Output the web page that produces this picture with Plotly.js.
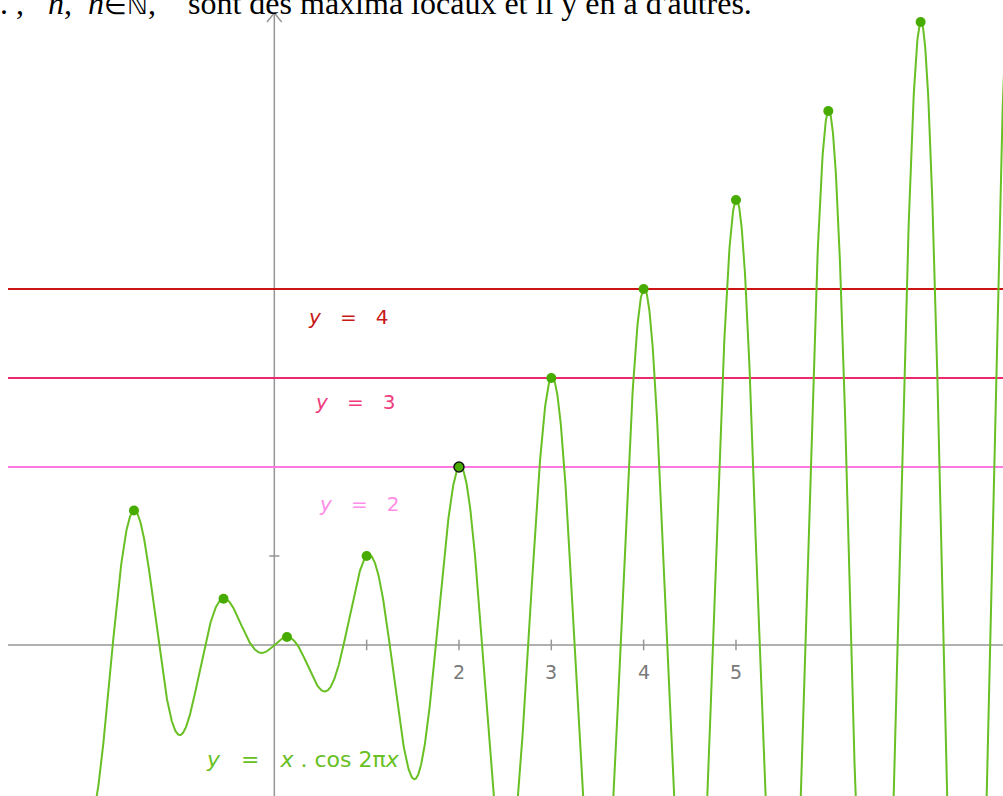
<!DOCTYPE html>
<html>
<head>
<meta charset="utf-8">
<script src="https://cdn.plot.ly/plotly-3.0.1.min.js"></script>
<style>html,body{margin:0;padding:0;background:#fff;overflow:hidden}#chart{width:1003px;height:796px}</style>
</head>
<body>
<div id="chart"></div>
<script>
// Curve shown in the picture: y = x . cos 2πx  (sampled over the visible domain)
const curveDomain = [-2.0, 7.95];
const curveStep = 0.004;

// Marked points
const markX = [-1.52, -0.55, 0.137, 1.0, 2, 3, 4, 5, 6, 7];
const markY = [1.51, 0.52, 0.09, 1.0, 2, 3, 4, 5, 6, 7];
const markOutlined = [false, false, false, false, true, false, false, false, false, false];

// Horizontal reference lines
const hLevels = [4, 3, 2];
const hLabels = ['<i>y</i>   =   4', '<i>y</i>   =   3', '<i>y</i>   =   2'];
const hColors = ['rgb(204,20,20)', 'rgb(236,40,110)', 'rgb(255,120,225)'];
const hLabelColors = ['rgb(200,25,25)', 'rgb(240,60,125)', 'rgb(255,140,230)'];
const hLabelX = [0.80, 0.875, 0.92];
const hLabelY = [3.68, 2.73, 1.58];

// Axis ticks
const xTicks = [1, 2, 3, 4, 5];
const xTickLabels = ['', '2', '3', '4', '5'];
const yTicks = [1];

const xRange = [-2.971, 7.892];
const yRange = [-1.697, 7.247];
const axisLeft = -2.884;

const cx = [], cy = [];
for (let x = curveDomain[0]; x <= curveDomain[1] + 1e-9; x += curveStep) {
  cx.push(x);
  cy.push(x * Math.cos(2 * Math.PI * x));
}

const green = 'rgb(104,192,36)';
const dotGreen = 'rgb(72,172,0)';
const axisGray = 'rgb(150,150,150)';

const traces = [
  {x: cx, y: cy, mode: 'lines', line: {color: green, width: 2}, hoverinfo: 'skip'},
  {x: markX, y: markY, mode: 'markers',
   marker: {size: 10, color: dotGreen,
            line: {color: markOutlined.map(o => o ? 'rgb(20,20,20)' : dotGreen),
                   width: markOutlined.map(o => o ? 1.5 : 0)}}}
];

const shapes = [];
shapes.push({type: 'line', xref: 'x', yref: 'y', x0: axisLeft, x1: xRange[1], y0: 0, y1: 0,
             line: {color: axisGray, width: 1.5}, layer: 'below'});
shapes.push({type: 'line', xref: 'x', yref: 'y', x0: 0, x1: 0, y0: yRange[0], y1: 7.1,
             line: {color: axisGray, width: 1.5}, layer: 'below'});
shapes.push({type: 'line', xref: 'x', yref: 'y', x0: 0, x1: -0.08, y0: 7.1, y1: 7.0,
             line: {color: axisGray, width: 1.5}, layer: 'below'});
shapes.push({type: 'line', xref: 'x', yref: 'y', x0: 0, x1: 0.08, y0: 7.1, y1: 7.0,
             line: {color: axisGray, width: 1.5}, layer: 'below'});
xTicks.forEach(t => shapes.push({type: 'line', xref: 'x', yref: 'y', x0: t, x1: t, y0: -0.06, y1: 0.06,
             line: {color: axisGray, width: 1.5}, layer: 'below'}));
yTicks.forEach(t => shapes.push({type: 'line', xref: 'x', yref: 'y', x0: -0.055, x1: 0.055, y0: t, y1: t,
             line: {color: axisGray, width: 1.5}, layer: 'below'}));
hLevels.forEach((v, i) => shapes.push({type: 'line', xref: 'x', yref: 'y', x0: axisLeft, x1: xRange[1], y0: v, y1: v,
             line: {color: hColors[i], width: 2}, layer: 'below'}));

const sans = 'DejaVu Sans, sans-serif';
const annotations = [];
xTicks.forEach((t, i) => {
  if (xTickLabels[i]) annotations.push({x: t, y: -0.3, xref: 'x', yref: 'y', text: xTickLabels[i],
    showarrow: false, font: {family: sans, size: 19, color: 'rgb(120,120,120)'}});
});
hLevels.forEach((v, i) => annotations.push({x: hLabelX[i], y: hLabelY[i], xref: 'x', yref: 'y', text: hLabels[i],
    showarrow: false, xanchor: 'center', font: {family: sans, size: 20, color: hLabelColors[i]}}));
annotations.push({x: 0.31, y: -1.29, xref: 'x', yref: 'y', text: '<i>y</i>   =   <i>x</i> . cos 2π<i>x</i>',
    showarrow: false, xanchor: 'center', font: {family: sans, size: 22, color: green}});
annotations.push({x: 0, y: 1, xref: 'paper', yref: 'paper', xanchor: 'left', yanchor: 'middle',
    xshift: -2, yshift: -3,
    text: '. ,   <i>n</i>,  <i>n</i><span style="font-size:26px">∈ℕ</span>,    sont des maxima locaux et il y en a d\'autres.',
    showarrow: false, font: {family: 'Liberation Serif, serif', size: 32, color: 'rgb(0,0,0)'}});

const layout = {
  width: 1003, height: 796,
  margin: {l: 0, r: 0, t: 0, b: 0},
  paper_bgcolor: '#fff', plot_bgcolor: '#fff',
  showlegend: false,
  xaxis: {range: xRange, showgrid: false, zeroline: false, showticklabels: false, ticks: '', showline: false, fixedrange: true},
  yaxis: {range: yRange, showgrid: false, zeroline: false, showticklabels: false, ticks: '', showline: false, fixedrange: true},
  shapes: shapes,
  annotations: annotations
};

Plotly.newPlot('chart', traces, layout, {displayModeBar: false, staticPlot: true});
</script>
</body>
</html>
